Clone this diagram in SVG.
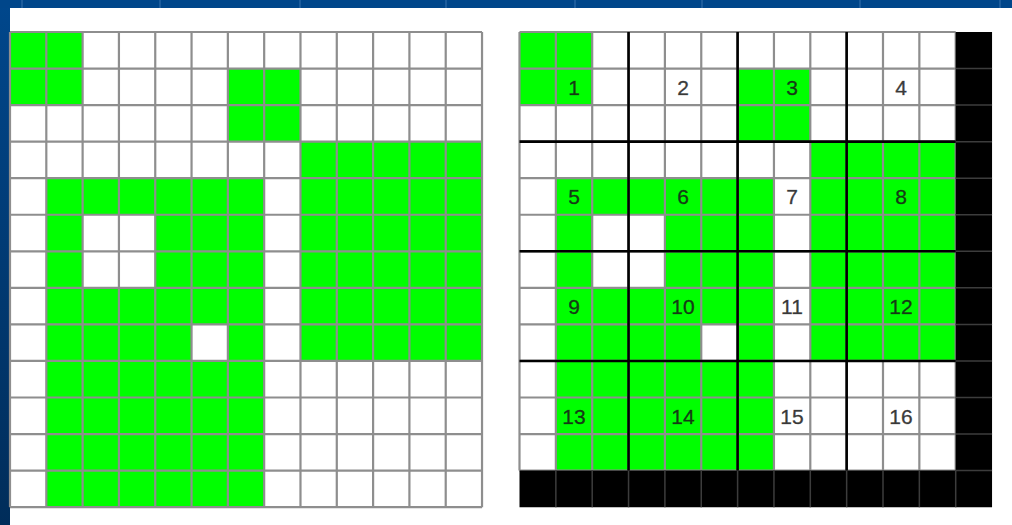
<svg xmlns="http://www.w3.org/2000/svg" width="1012" height="525" viewBox="0 0 1012 525">
  <defs>
    <linearGradient id="leftStrip" x1="0" y1="0" x2="0" y2="1">
      <stop offset="0" stop-color="#00478c"/>
      <stop offset="1" stop-color="#002d5a"/>
    </linearGradient>
  </defs>
  <style>
    .green { fill: #00ff00; }
    .hole { fill: #ffffff; }
    .blk { fill: #000000; }
    .grid { fill: none; stroke: #8e8e8e; stroke-width: 2.2; }
    .darkgrid { fill: none; stroke: #3c3c3c; stroke-width: 1.5; }
    .thick { fill: none; stroke: #000000; stroke-width: 2.6; }
    .lbl { font-family: "Liberation Sans", Arial, sans-serif; font-size: 21px; text-anchor: middle; fill: #1a1a1a; fill-opacity: 0.85; stroke: #1a1a1a; stroke-opacity: 0.6; stroke-width: 0.5; }
  </style>

  <!-- background -->
  <g id="background">
    <rect x="0" y="0" width="1012" height="525" fill="url(#leftStrip)"/>
    <rect x="0" y="0" width="1012" height="8" fill="#00468a"/>
    <path d="M22 0V8 M160 0V8 M300 0V8 M446 0V8 M575 0V8 M702 0V8 M860 0V8 M1000 0V8" stroke="#1c5c9c" stroke-width="2"/>
    <rect x="10" y="8" width="1002" height="517" fill="#ffffff"/>
  </g>

  <!-- left grid -->
  <g id="left-grid" transform="translate(10 32) scale(36.31 36.55)">
    <rect width="13" height="13" fill="#ffffff"/>
    <path class="green" d="M0 0h2v2h-2z M6 1h2v2h-2z M8 3h5v6h-5z M1 4h6v9h-6z"/>
    <path class="hole" d="M2 5h2v2h-2z M5 8h1v1h-1z"/>
    <path class="grid" vector-effect="non-scaling-stroke" d="M0 0V13 M1 0V13 M2 0V13 M3 0V13 M4 0V13 M5 0V13 M6 0V13 M7 0V13 M8 0V13 M9 0V13 M10 0V13 M11 0V13 M12 0V13 M13 0V13 M0 0H13 M0 1H13 M0 2H13 M0 3H13 M0 4H13 M0 5H13 M0 6H13 M0 7H13 M0 8H13 M0 9H13 M0 10H13 M0 11H13 M0 12H13 M0 13H13"/>
  </g>

  <!-- right grid -->
  <g id="right-grid" transform="translate(519.5 32) scale(36.35 36.55)">
    <rect width="13" height="13" fill="#ffffff"/>
    <path class="green" d="M0 0h2v2h-2z M6 1h2v2h-2z M8 3h4v6h-4z M1 4h6v8h-6z"/>
    <path class="hole" d="M2 5h2v2h-2z M5 8h1v1h-1z"/>
    <path class="grid" vector-effect="non-scaling-stroke" d="M0 0V12 M1 0V12 M2 0V12 M3 0V12 M4 0V12 M5 0V12 M6 0V12 M7 0V12 M8 0V12 M9 0V12 M10 0V12 M11 0V12 M12 0V12 M0 0H12 M0 1H12 M0 2H12 M0 3H12 M0 4H12 M0 5H12 M0 6H12 M0 7H12 M0 8H12 M0 9H12 M0 10H12 M0 11H12 M0 12H12"/>
    <path class="blk" d="M12 0h1v13h-13v-1h12z"/>
    <path class="darkgrid" vector-effect="non-scaling-stroke" d="M1 12V13 M2 12V13 M3 12V13 M4 12V13 M5 12V13 M6 12V13 M7 12V13 M8 12V13 M9 12V13 M10 12V13 M11 12V13 M12 12V13 M12 1H13 M12 2H13 M12 3H13 M12 4H13 M12 5H13 M12 6H13 M12 7H13 M12 8H13 M12 9H13 M12 10H13 M12 11H13 M12 12H13"/>
    <path class="thick" vector-effect="non-scaling-stroke" d="M3 0V12 M6 0V12 M9 0V12 M0 3H12 M0 6H12 M0 9H12"/>
  </g>

  <!-- labels -->
  <g id="labels">
    <text class="lbl" x="574" y="94.5">1</text>
    <text class="lbl" x="683" y="94.5">2</text>
    <text class="lbl" x="792" y="94.5">3</text>
    <text class="lbl" x="901" y="94.5">4</text>
    <text class="lbl" x="574" y="204">5</text>
    <text class="lbl" x="683" y="204">6</text>
    <text class="lbl" x="792" y="204">7</text>
    <text class="lbl" x="901" y="204">8</text>
    <text class="lbl" x="574" y="314">9</text>
    <text class="lbl" x="683" y="314">10</text>
    <text class="lbl" x="792" y="314">11</text>
    <text class="lbl" x="901" y="314">12</text>
    <text class="lbl" x="574" y="423.5">13</text>
    <text class="lbl" x="683" y="423.5">14</text>
    <text class="lbl" x="792" y="423.5">15</text>
    <text class="lbl" x="901" y="423.5">16</text>
  </g>
</svg>
